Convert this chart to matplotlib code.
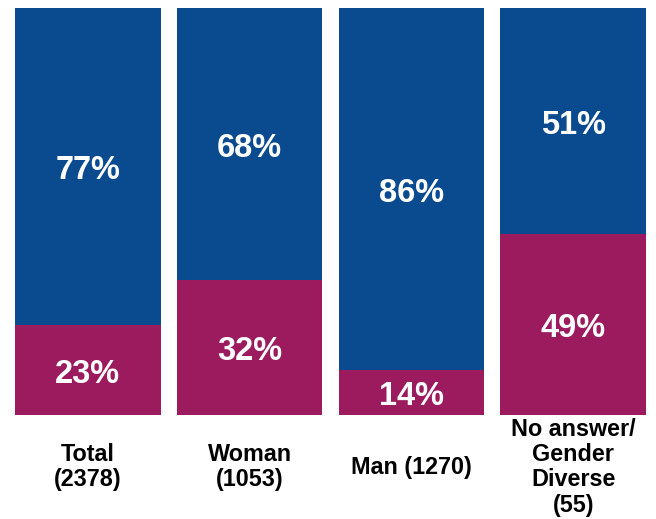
import matplotlib.pyplot as plt
import numpy as np

plt.rcParams['font.family'] = ['Liberation Sans', 'DejaVu Sans']

categories = ['Total\n(2378)', 'Woman\n(1053)', 'Man (1270)', 'No answer/\nGender\nDiverse\n(55)']
# segment heights as drawn in the picture (share of bar)
bottom_height = [22.1, 33.2, 11.1, 44.5]   # magenta segment
top_height = [77.9, 66.8, 88.9, 55.5]      # blue segment
# printed labels
bottom_label = ['23%', '32%', '14%', '49%']
top_label = ['77%', '68%', '86%', '51%']

blue = '#0A4A8F'
magenta = '#9B1B5E'

fig = plt.figure(figsize=(6.56, 5.19), dpi=100)
ax = fig.add_axes([15 / 656, 1 - 415 / 519, 631 / 656, 407 / 519])

x = np.arange(len(categories))
ax.bar(x, bottom_height, width=0.9, color=magenta)
ax.bar(x, top_height, bottom=bottom_height, width=0.9, color=blue)

for i in range(len(categories)):
    ax.annotate(bottom_label[i], (x[i], bottom_height[i] / 2), xytext=(0, -3),
                textcoords='offset points', ha='center', va='center',
                color='white', fontsize=23.5, fontweight='bold')
    ax.annotate(top_label[i], (x[i], bottom_height[i] + top_height[i] / 2), xytext=(0, -3),
                textcoords='offset points', ha='center', va='center',
                color='white', fontsize=23.5, fontweight='bold')
    ax.annotate(categories[i], (x[i], -12.5), xytext=(0, -1), textcoords='offset points',
                ha='center', va='center', fontsize=16.8, fontweight='bold',
                linespacing=1.12, annotation_clip=False)

ax.set_xlim(-0.45, len(categories) - 0.55)
ax.set_ylim(0, 100)
ax.axis('off')

fig.savefig('out.png', dpi=100)
